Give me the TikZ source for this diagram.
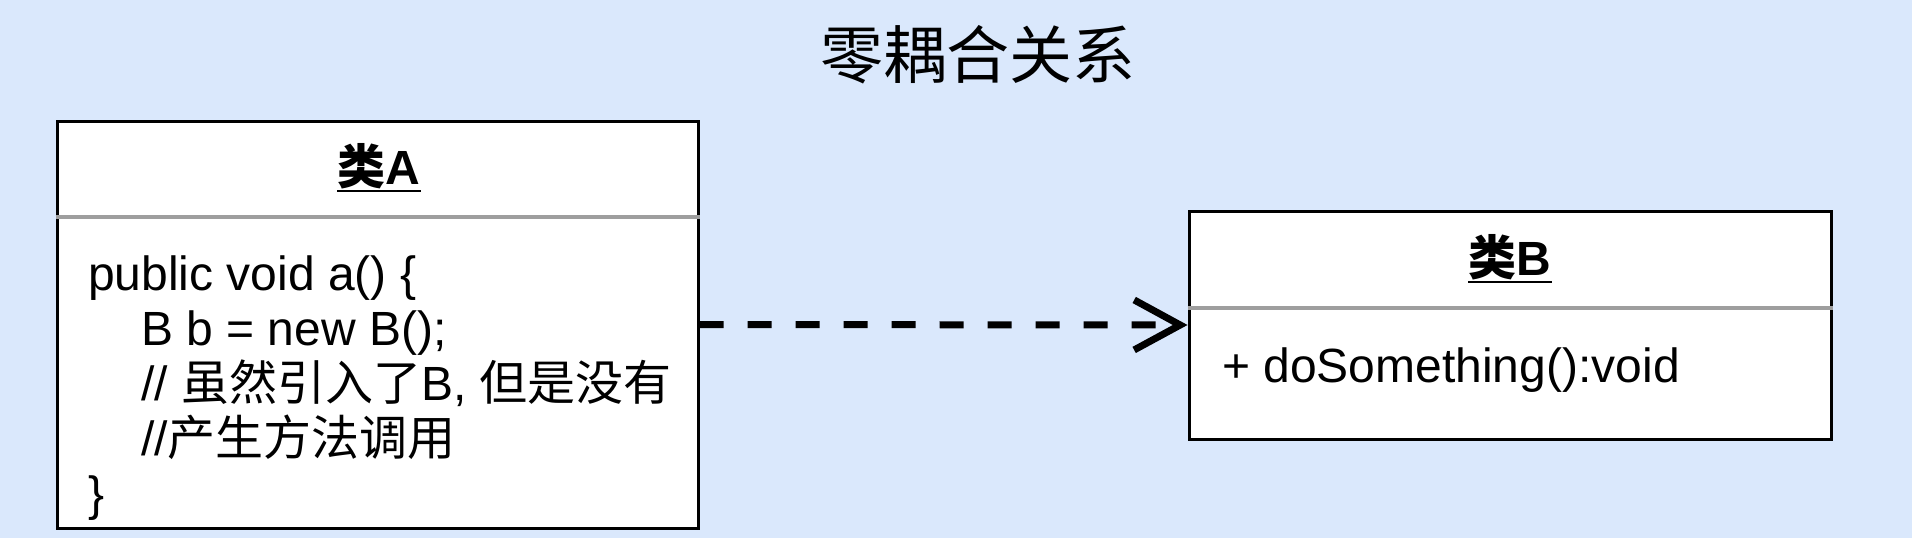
\documentclass[tikz,border=0pt]{standalone}
\usepackage{fontspec}
\setmainfont{Liberation Sans}
\newfontfamily\cjk{Noto Sans CJK SC}
\usetikzlibrary{arrows.meta}
\definecolor{bgblue}{HTML}{DAE8FC}
\definecolor{sepgray}{HTML}{9E9E9E}

\begin{document}
\begin{tikzpicture}[x=1pt, y=-1pt,
		classbox/.style={draw=black, line width=3pt, fill=white, inner sep=0pt},
		sepline/.style={line width=3.5pt, color=sepgray},
		headtext/.style={font=\fontsize{48}{55}\selectfont\bfseries, inner sep=0pt},
		underl/.style={line width=2.5pt},
		bodytext/.style={font=\fontsize{48}{55}\selectfont, align=left, anchor=base west, inner sep=0pt}]
			%%%%% START %%%%%
			
			\fill[bgblue] (0, 0) rectangle (1912, 538);
			\useasboundingbox (0, 0) rectangle (1912, 538);
			
			\node (title) at (978, 55) {\cjk\fontsize{63}{70}\selectfont 零耦合关系};
			
			\node[classbox, minimum width=641pt, minimum height=407pt] (classA) at (377.5, 324.5) {};
			\draw[sepline] (classA.north west |- 0, 217) -- (classA.north east |- 0, 217);
			\node[headtext] (headA) at (379, 166) {{\cjk 类}A};
			\draw[underl] ([yshift=-7pt]headA.base west) -- ([yshift=-7pt]headA.base east);
			\node[bodytext] (bodyA) at (88, 510) {public void a() \{\\
				\hspace{53pt}B b = new B();\\
				\hspace{53pt}// {\cjk 虽然引入了}B, {\cjk 但是没有}\\
				\hspace{53pt}//{\cjk 产生方法调用}\\
				\}};
			
			\node[classbox, minimum width=642pt, minimum height=228pt] (classB) at (1510, 325) {};
			\draw[sepline] (classB.north west |- 0, 308) -- (classB.north east |- 0, 308);
			\node[headtext] (headB) at (1510, 257) {{\cjk 类}B};
			\draw[underl] ([yshift=-7pt]headB.base west) -- ([yshift=-7pt]headB.base east);
			\node[bodytext] (bodyB) at (1222, 382) {+ doSomething():void};
			
			\draw[line width=7pt, dash pattern=on 24pt off 24pt, -{Straight Barb[length=46pt, width=50pt]}] (classA.east) -- (classB.west);
			
			%%%%% END %%%%%
		\end{tikzpicture}
\end{document}
